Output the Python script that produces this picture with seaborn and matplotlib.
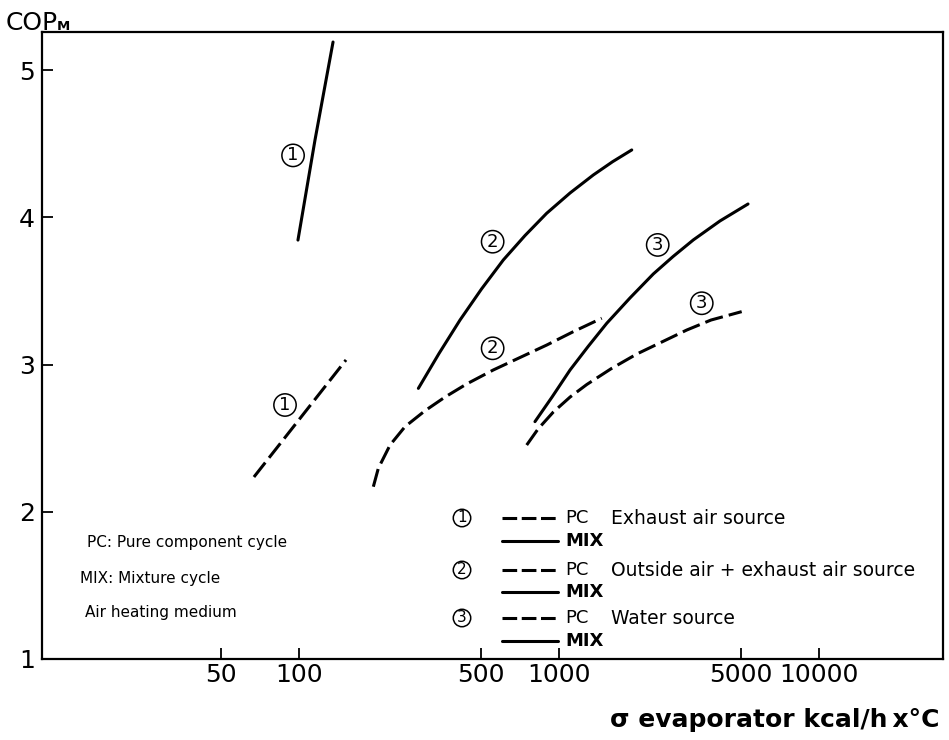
import matplotlib
matplotlib.use("Agg")
import matplotlib.pyplot as plt
import seaborn as sns
import numpy as np
import pandas as pd
from matplotlib.lines import Line2D
from matplotlib.ticker import NullLocator, FixedLocator, FixedFormatter

# ---------------- data ----------------
x_ticks = [50, 100, 500, 1000, 5000, 10000]
x_tick_labels = ["50", "100", "500", "1000", "5000", "10000"]
y_ticks = [1, 2, 3, 4, 5]

# (1) Exhaust air source
ex_mix_x = [98.8, 114.9, 134.8]
ex_mix_y = [3.845, 4.525, 5.19]
ex_pc_x = [66.9, 151.2]
ex_pc_y = [2.236, 3.031]

# (2) Outside air + exhaust air source
oa_mix_x = [287, 344.6, 415, 502.1, 609, 738.1, 894, 1100, 1351, 1602, 1899]
oa_mix_y = [2.838, 3.075, 3.302, 3.513, 3.710, 3.876, 4.027, 4.165, 4.287, 4.377, 4.457]
oa_pc_x = [192.6, 201.3, 223.3, 255.0, 304.4, 363.5, 440.4, 557.5, 894, 1132, 1456]
oa_pc_y = [2.170, 2.295, 2.453, 2.578, 2.686, 2.779, 2.868, 2.963, 3.132, 3.223, 3.314]

# (3) Water source
ws_mix_x = [806, 937.5, 1100, 1290, 1522, 1870, 2299, 2737, 3276, 4150, 5318]
ws_mix_y = [2.612, 2.779, 2.963, 3.122, 3.280, 3.452, 3.615, 3.733, 3.846, 3.975, 4.090]
ws_pc_x = [749, 828.2, 948, 1100, 1275, 1581, 1985, 3090, 3832, 5028]
ws_pc_y = [2.453, 2.562, 2.677, 2.779, 2.864, 2.971, 3.071, 3.234, 3.302, 3.359]

curve_labels = ["1", "1", "2", "2", "3", "3"]
curve_label_x = [94.6, 88.1, 554, 554, 2390, 3530]
curve_label_y = [4.42, 2.725, 3.834, 3.11, 3.812, 3.416]

legend_nums = ["1", "2", "3"]
legend_desc = ["Exhaust air source", "Outside air + exhaust air source", "Water source"]

# ---------------- figure ----------------
sns.set_style("ticks")
plt.rcParams["font.family"] = ["DejaVu Sans"]
plt.rcParams["text.color"] = "black"
plt.rcParams["axes.labelcolor"] = "black"

W, H = 949, 740
fig = plt.figure(figsize=(W / 100, H / 100), dpi=100)
L, R, T, B = 42, 943, 32, 659
ax = fig.add_axes([L / W, 1 - B / H, (R - L) / W, (B - T) / H])

series = [
    (ex_mix_x, ex_mix_y, "-"),
    (ex_pc_x, ex_pc_y, "--"),
    (oa_mix_x, oa_mix_y, "-"),
    (oa_pc_x, oa_pc_y, "--"),
    (ws_mix_x, ws_mix_y, "-"),
    (ws_pc_x, ws_pc_y, "--"),
]
dash = (0, (6, 2))
for xs, ys, ls in series:
    df = pd.DataFrame({"x": xs, "y": ys})
    sns.lineplot(data=df, x="x", y="y", ax=ax, color="black",
                 sort=False, estimator=None, linewidth=2.2)
    l = ax.lines[-1]
    l.set_solid_capstyle("round")
    l.set_solid_joinstyle("round")
    l.set_dash_capstyle("butt")
    if ls == "--":
        l.set_linestyle(dash)

ax.set_xscale("log")
ax.set_xlim(10.24, 29900)
ax.set_ylim(1, 1 + (B - T) / 147.25)

ax.xaxis.set_major_locator(FixedLocator(x_ticks))
ax.xaxis.set_major_formatter(FixedFormatter(x_tick_labels))
ax.xaxis.set_minor_locator(NullLocator())
ax.set_yticks(y_ticks)
ax.set_yticklabels([str(v) for v in y_ticks])
ax.tick_params(axis="both", direction="in", length=8, width=1.3, labelsize=18,
               colors="black")
ax.tick_params(axis="x", pad=3)
ax.tick_params(axis="y", pad=5)
for s in ax.spines.values():
    s.set_linewidth(1.6)
    s.set_color("black")
ax.set_xlabel("")
ax.set_ylabel("")

# circled curve labels
for t, x, y in zip(curve_labels, curve_label_x, curve_label_y):
    ax.text(x, y, t, ha="center", va="center", fontsize=13,
            bbox=dict(boxstyle="circle,pad=0.12", fc="white", ec="black", lw=1.1))

def fx(px):
    return (px - L) / (R - L)

def fy(py):
    return (B - py) / (B - T)

# left notes
notes = [("PC: Pure component cycle", 87, 542),
         ("MIX: Mixture cycle", 80, 578),
         ("Air heating medium", 85, 612)]
for txt, px, py in notes:
    ax.text(fx(px), fy(py), txt, transform=ax.transAxes, ha="left", va="center",
            fontsize=11)

# legend block
rows_pc = [518, 570, 618]
rows_mix = [541, 592, 641]
for num, desc, ypc, ymix in zip(legend_nums, legend_desc, rows_pc, rows_mix):
    ax.text(fx(462), fy(ypc), num, transform=ax.transAxes, ha="center", va="center",
            fontsize=11,
            bbox=dict(boxstyle="circle,pad=0.08", fc="white", ec="black", lw=1.1))
    ax.add_line(Line2D([fx(502), fx(558)], [fy(ypc), fy(ypc)], transform=ax.transAxes,
                       color="black", lw=2.2, linestyle=(0, (4.8, 1.5))))
    ax.add_line(Line2D([fx(502), fx(558)], [fy(ymix), fy(ymix)], transform=ax.transAxes,
                       color="black", lw=2.2))
    ax.text(fx(565), fy(ypc), "PC", transform=ax.transAxes, ha="left", va="center",
            fontsize=13)
    ax.text(fx(565), fy(ymix), "MIX", transform=ax.transAxes, ha="left", va="center",
            fontsize=13, fontweight="bold")
    ax.text(fx(611), fy(ypc), desc, transform=ax.transAxes, ha="left", va="center",
            fontsize=13.5)

# axis titles
fig.text(6 / W, 1 - 30 / H, "COP", ha="left", va="baseline", fontsize=18)
fig.text(57 / W, 1 - 30 / H, "M", ha="left", va="baseline", fontsize=9.5,
         fontweight="bold")
fig.text(940 / W, 1 - 727 / H, "σ evaporator kcal/h\u2009x°C", ha="right",
         va="baseline", fontsize=18, fontweight="bold")

fig.savefig("out.png", dpi=100, facecolor="white")
